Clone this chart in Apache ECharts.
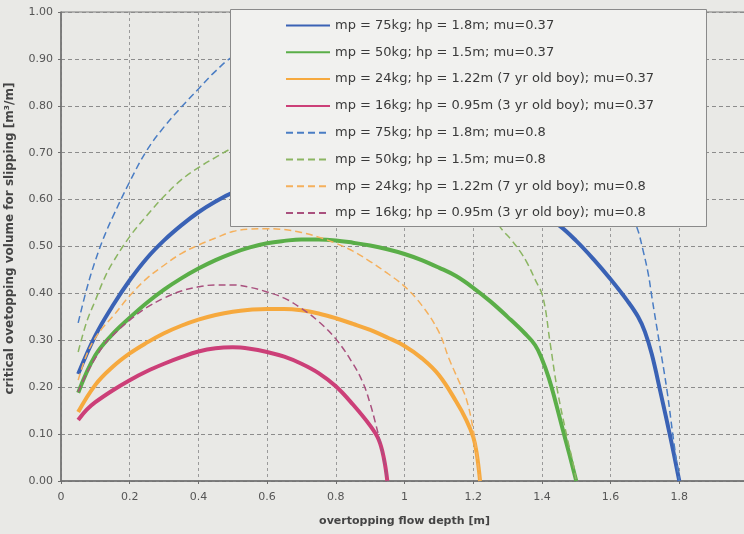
<!DOCTYPE html>
<html>
<head>
<meta charset="utf-8">
<script src="https://cdn.jsdelivr.net/npm/echarts@6/dist/echarts.min.js"></script>
<style>
  html, body { margin: 0; padding: 0; background: #e9e9e6; }
  #chart { width: 744px; height: 534px; }
</style>
</head>
<body>
<div id="chart"></div>
<script>
// series names (legend)
var names = [
    'mp = 75kg; hp = 1.8m; mu=0.37',
    'mp = 50kg; hp = 1.5m; mu=0.37',
    'mp = 24kg; hp = 1.22m (7 yr old boy); mu=0.37',
    'mp = 16kg; hp = 0.95m (3 yr old boy); mu=0.37',
    'mp = 75kg; hp = 1.8m; mu=0.8',
    'mp = 50kg; hp = 1.5m; mu=0.8',
    'mp = 24kg; hp = 1.22m (7 yr old boy); mu=0.8',
    'mp = 16kg; hp = 0.95m (3 yr old boy); mu=0.8'
];

// [flow depth, volume] (the tops hidden by the legend are guessed)
var m75_037 = [[0.05,0.228],[0.1,0.31],[0.15,0.373],[0.2,0.428],[0.25,0.475],[0.3,0.513],[0.35,0.545],[0.4,0.573],[0.45,0.596],[0.5,0.615],[0.6,0.642],[0.7,0.657],[0.8,0.663],[0.9,0.662],[1.0,0.655],[1.1,0.642],[1.2,0.624],[1.3,0.6],[1.4,0.568],[1.45,0.545],[1.5,0.512],[1.55,0.473],[1.6,0.43],[1.65,0.383],[1.68,0.35],[1.7,0.318],[1.72,0.27],[1.745,0.19],[1.775,0.09],[1.8,0]];
var m50_037 = [[0.05,0.188],[0.1,0.268],[0.15,0.313],[0.2,0.348],[0.25,0.38],[0.3,0.408],[0.35,0.432],[0.4,0.453],[0.45,0.471],[0.5,0.486],[0.55,0.498],[0.6,0.507],[0.65,0.512],[0.7,0.515],[0.75,0.515],[0.8,0.513],[0.85,0.508],[0.9,0.502],[0.95,0.494],[1.0,0.484],[1.05,0.471],[1.1,0.455],[1.15,0.437],[1.2,0.412],[1.25,0.383],[1.3,0.35],[1.35,0.315],[1.38,0.29],[1.4,0.26],[1.42,0.22],[1.44,0.168],[1.46,0.112],[1.48,0.057],[1.5,0]];
var m24_037 = [[0.05,0.147],[0.1,0.205],[0.15,0.243],[0.2,0.272],[0.25,0.295],[0.3,0.315],[0.35,0.331],[0.4,0.344],[0.45,0.354],[0.5,0.361],[0.55,0.365],[0.6,0.367],[0.65,0.367],[0.7,0.364],[0.75,0.357],[0.8,0.347],[0.85,0.335],[0.9,0.322],[0.95,0.306],[1.0,0.288],[1.05,0.262],[1.1,0.226],[1.15,0.17],[1.18,0.13],[1.2,0.094],[1.21,0.06],[1.22,0]];
var m16_037 = [[0.05,0.13],[0.075,0.152],[0.1,0.168],[0.15,0.193],[0.2,0.215],[0.25,0.234],[0.3,0.25],[0.35,0.264],[0.4,0.276],[0.45,0.283],[0.5,0.285],[0.55,0.282],[0.6,0.275],[0.65,0.265],[0.7,0.25],[0.75,0.23],[0.8,0.202],[0.85,0.163],[0.9,0.118],[0.925,0.088],[0.94,0.048],[0.95,0]];
var m75_08 = [[0.05,0.337],[0.075,0.41],[0.1,0.47],[0.125,0.52],[0.15,0.562],[0.2,0.638],[0.25,0.705],[0.3,0.755],[0.35,0.797],[0.4,0.836],[0.45,0.874],[0.5,0.905],[0.6,0.945],[0.7,0.968],[0.8,0.978],[0.9,0.978],[1.0,0.97],[1.1,0.952],[1.2,0.925],[1.3,0.885],[1.4,0.83],[1.5,0.755],[1.58,0.675],[1.64,0.6],[1.676,0.542],[1.695,0.49],[1.71,0.44],[1.72,0.393],[1.742,0.294],[1.764,0.194],[1.782,0.094],[1.8,0]];
var m50_08 = [[0.05,0.275],[0.075,0.34],[0.1,0.385],[0.125,0.43],[0.15,0.465],[0.2,0.521],[0.25,0.566],[0.3,0.607],[0.35,0.642],[0.4,0.668],[0.45,0.69],[0.5,0.71],[0.6,0.738],[0.7,0.752],[0.8,0.755],[0.9,0.748],[1.0,0.73],[1.1,0.695],[1.2,0.63],[1.25,0.583],[1.278,0.542],[1.31,0.515],[1.336,0.49],[1.357,0.465],[1.38,0.43],[1.403,0.392],[1.424,0.294],[1.445,0.194],[1.473,0.094],[1.49,0.04],[1.5,0]];
var m24_08 = [[0.05,0.215],[0.075,0.27],[0.1,0.305],[0.125,0.33],[0.15,0.35],[0.2,0.395],[0.25,0.432],[0.3,0.46],[0.35,0.485],[0.4,0.503],[0.45,0.518],[0.5,0.532],[0.55,0.537],[0.6,0.538],[0.65,0.536],[0.7,0.53],[0.75,0.52],[0.8,0.507],[0.85,0.49],[0.9,0.468],[0.95,0.443],[1.0,0.415],[1.05,0.375],[1.1,0.318],[1.13,0.26],[1.16,0.21],[1.18,0.175],[1.2,0.11],[1.21,0.06],[1.22,0]];
var m16_08 = [[0.05,0.19],[0.075,0.23],[0.1,0.262],[0.125,0.29],[0.15,0.31],[0.2,0.343],[0.25,0.37],[0.3,0.39],[0.35,0.405],[0.4,0.414],[0.45,0.418],[0.5,0.418],[0.55,0.413],[0.6,0.403],[0.65,0.39],[0.7,0.368],[0.75,0.34],[0.8,0.303],[0.85,0.25],[0.88,0.208],[0.9,0.165],[0.915,0.125],[0.93,0.08],[0.94,0.045],[0.95,0]];

var seriesData = [m75_037, m50_037, m24_037, m16_037, m75_08, m50_08, m24_08, m16_08];
var colors = ['#3a62b5', '#5aae48', '#f6a93e', '#cc3f78', '#4a7dc4', '#8bb562', '#f5b05c', '#a9507e'];

var font = 'DejaVu Sans, Verdana, sans-serif';

const buildSeries = () => {
    var out = [];
    for (var i = 0; i < seriesData.length; i++) {
        var dashed = i >= 4;
        out.push({
            name: names[i],
            type: 'line',
            data: seriesData[i],
            symbol: 'none',
            smooth: 0.4,
            color: colors[i],
            lineStyle: {
                color: colors[i],
                width: dashed ? 1.5 : 4,
                type: dashed ? [7, 4] : 'solid'
            },
            z: dashed ? 3 : 2
        });
    }
    return out;
};

var option = {
    backgroundColor: '#e9e9e6',
    animation: false,
    grid: {
        left: 61, top: 12, bottom: 53, right: -4,
        show: true, borderColor: '#7a7a7a', borderWidth: 1,
        outerBoundsMode: 'none'
    },
    xAxis: {
        type: 'value',
        min: 0, max: 2, interval: 0.2,
        name: 'overtopping flow depth [m]',
        nameLocation: 'middle',
        nameGap: 35,
        nameTextStyle: { fontFamily: font, fontSize: 11, fontWeight: 'bold', color: '#444' },
        axisLine: { lineStyle: { color: '#6e6e6e', width: 1.5 } },
        axisTick: { show: true, length: 3, lineStyle: { color: '#6e6e6e' } },
        axisLabel: { showMaxLabel: false, fontFamily: font, fontSize: 11, color: '#555', margin: 11 },
        splitLine: { show: true, lineStyle: { color: '#9a9a9a', width: 1, type: [3, 3] } }
    },
    yAxis: {
        type: 'value',
        min: 0, max: 1, interval: 0.1,
        name: 'critical ovetopping volume for slipping [m\u00b3/m]',
        nameLocation: 'middle',
        nameGap: 45,
        nameTextStyle: { fontFamily: font, fontSize: 12, fontWeight: 'bold', color: '#444', padding: [0, 0, 0, 16] },
        axisLine: { show: true, lineStyle: { color: '#6e6e6e', width: 1.5 } },
        axisTick: { show: true, length: 3, lineStyle: { color: '#6e6e6e' } },
        axisLabel: {
            fontFamily: font, fontSize: 11, color: '#555', margin: 8,
            formatter: (v) => v.toFixed(2)
        },
        splitLine: { show: true, lineStyle: { color: '#8c8c8c', width: 1, type: [4, 3] } }
    },
    legend: {
        data: names,
        orient: 'vertical',
        left: 285, top: 19,
        itemWidth: 44, itemHeight: 14, itemGap: 13.8,
        padding: 0,
        z: 20,
        // hide the marker dot, keep the line
        itemStyle: { opacity: 0 },
        textStyle: { fontFamily: font, fontSize: 13, color: '#3a3a3a' }
    },
    // legend frame, covers the curve tops like in the picture
    graphic: {
        elements: [{
            type: 'rect',
            z: 10,
            shape: { x: 230.5, y: 9.5, width: 476, height: 217 },
            style: { fill: '#f1f1ef', stroke: '#8a8a8a', lineWidth: 1 }
        }]
    },
    series: buildSeries()
};

var chart = echarts.init(document.getElementById('chart'));
chart.setOption(option);
</script>
</body>
</html>
